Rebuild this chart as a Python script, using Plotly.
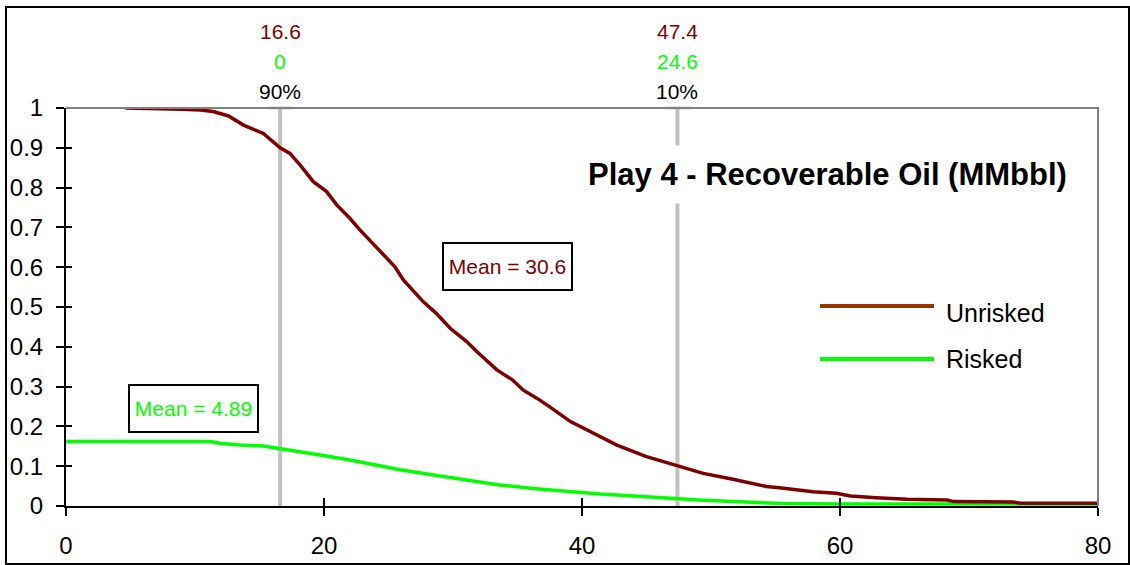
import plotly.graph_objects as go

# Exceedance probability curves, Play 4 recoverable oil (MMbbl)
unrisked_x = [4.6, 7, 9, 10.4, 11.4, 12.6, 13.75, 15.3, 16.07, 16.6, 17.36, 18.14, 19.17,
              20.2, 21, 22, 22.8, 23.8, 24.6, 25.5, 26.15, 27.7, 28.7, 29.8, 31.06, 31.84,
              33.4, 34.6, 35.45, 36.5, 37.5, 39.1, 40.4, 41.4, 42.7, 45, 47.4, 49.4, 51.7,
              54.3, 55.3, 57.9, 59.7, 60.8, 62.8, 65.2, 68.3, 68.8, 73.4, 74, 80]
unrisked_y = [1.0, 0.999, 0.997, 0.995, 0.991, 0.980, 0.957, 0.936, 0.913, 0.90, 0.886,
              0.857, 0.815, 0.790, 0.756, 0.723, 0.693, 0.660, 0.631, 0.601, 0.568, 0.513,
              0.484, 0.446, 0.413, 0.388, 0.342, 0.317, 0.291, 0.271, 0.249, 0.212, 0.191,
              0.174, 0.153, 0.124, 0.10, 0.082, 0.067, 0.049, 0.046, 0.036, 0.032, 0.025,
              0.021, 0.017, 0.015, 0.011, 0.010, 0.007, 0.007]

risked_x = [0, 11.2, 11.9, 13.5, 15.3, 16.7, 18.1, 19.7, 21.8, 23.6, 25.9, 28.5, 31.1,
            33.6, 36.2, 38.8, 41.4, 44.0, 46.6, 49.1, 51.7, 55.6, 60, 70, 80]
risked_y = [0.162, 0.162, 0.1575, 0.153, 0.151, 0.143, 0.136, 0.128, 0.117, 0.105, 0.091,
            0.078, 0.065, 0.053, 0.044, 0.036, 0.030, 0.025, 0.019, 0.015, 0.011, 0.006,
            0.005, 0.005, 0.005]

# Percentiles (P90 / P10) and means
pct_labels = ["90%", "10%"]
pct_unrisked = [16.6, 47.4]
pct_risked = [0, 24.6]
mean_unrisked = 30.6
mean_risked = 4.89

x_ticks = [0, 20, 40, 60, 80]
y_ticks = [0, 0.1, 0.2, 0.3, 0.4, 0.5, 0.6, 0.7, 0.8, 0.9, 1]

FONT = "Liberation Sans, Arial, sans-serif"
RED = "#800000"
GREEN = "#00FF00"
GREY = "#C0C0C0"

W, H = 1130, 565
L, R, T, B = 66, 32, 108, 59
PW, PH = W - L - R, H - T - B


def px(xp):
    return (xp - L) / PW


def py(yp):
    return (H - B - yp) / PH


fig = go.Figure()

# Percentile marker lines with a cap at the top
for v in pct_unrisked:
    fig.add_trace(go.Scatter(
        x=[v, v], y=[0, 1], mode="lines+markers",
        line=dict(color=GREY, width=4),
        marker=dict(symbol="line-ew", size=[0, 18], color=GREY,
                    line=dict(width=3, color=GREY)),
        cliponaxis=False, showlegend=False, hoverinfo="skip"))

fig.add_trace(go.Scatter(x=risked_x, y=risked_y, mode="lines", name="Risked",
                         line=dict(color=GREEN, width=3.5), showlegend=False))
fig.add_trace(go.Scatter(x=unrisked_x, y=unrisked_y, mode="lines", name="Unrisked",
                         line=dict(color=RED, width=3.5), showlegend=False))

# Invisible trace on the overlay axes that carry the inner half of the crossing ticks
fig.add_trace(go.Scatter(x=[None], y=[None], xaxis="x2", yaxis="y2",
                         showlegend=False, hoverinfo="skip"))

axis_common = dict(showgrid=False, zeroline=False, color="black", automargin=False,
                   tickfont=dict(family=FONT, size=24, color="black"))

fig.update_layout(
    width=W, height=H,
    margin=dict(l=L, r=R, t=T, b=B),
    paper_bgcolor="white", plot_bgcolor="white",
    font=dict(family=FONT, color="black"),
    showlegend=False,
    xaxis=dict(range=[0, 80], tickvals=x_ticks, ticks="outside", ticklen=8,
               tickwidth=2, tickcolor="black", showline=True, linecolor="black",
               linewidth=2, ticklabelstandoff=9, **axis_common),
    yaxis=dict(range=[0, 1], tickvals=y_ticks, ticks="outside", ticklen=8,
               tickwidth=2, tickcolor="black", showline=True, linecolor="black",
               linewidth=2, ticklabelstandoff=8, **axis_common),
    xaxis2=dict(range=[0, 80], tickvals=x_ticks, ticks="inside", ticklen=8,
                tickwidth=2, tickcolor="black", showticklabels=False,
                overlaying="x", anchor="y", side="bottom", showgrid=False,
                zeroline=False, showline=False, automargin=False),
    yaxis2=dict(range=[0, 1], tickvals=y_ticks, ticks="inside", ticklen=6,
                tickwidth=2, tickcolor="black", showticklabels=False,
                overlaying="y", anchor="x", side="left", showgrid=False,
                zeroline=False, showline=False, automargin=False),
)

shapes = [
    # grey top and right edges of the plot area
    dict(type="path", xref="paper", yref="paper", path="M 0 1 L 1 1 L 1 0",
         line=dict(color="#808080", width=2), layer="above"),
    # outer chart border
    dict(type="rect", xref="paper", yref="paper",
         x0=px(6), x1=px(1129), y0=py(564), y1=py(7),
         line=dict(color="black", width=2), layer="above"),
    # legend keys
    dict(type="line", xref="paper", yref="paper", x0=px(820), x1=px(934),
         y0=py(306), y1=py(306), line=dict(color="#993300", width=4)),
    dict(type="line", xref="paper", yref="paper", x0=px(820), x1=px(934),
         y0=py(359), y1=py(359), line=dict(color=GREEN, width=4)),
]
fig.update_layout(shapes=shapes)

centered = dict(showarrow=False, xanchor="center", yanchor="middle")
annotations = [
    dict(text="<b>Play 4 - Recoverable Oil (MMbbl)</b>", xref="paper", yref="paper",
         x=px(827), y=py(174), bgcolor="white", borderpad=11,
         font=dict(family=FONT, size=31, color="black"), **centered),
    dict(text=f"Mean = {mean_unrisked}", xref="paper", yref="paper",
         x=px(507.5), y=py(266.5), bgcolor="white",
         bordercolor="black", borderwidth=2, borderpad=2, width=123, height=41,
         font=dict(family=FONT, size=21, color=RED), **centered),
    dict(text=f"Mean = {mean_risked}", xref="paper", yref="paper",
         x=px(193.8), y=py(408.7), bgcolor="white",
         bordercolor="black", borderwidth=2, borderpad=2, width=123, height=41,
         font=dict(family=FONT, size=21, color=GREEN), **centered),
    dict(text="Unrisked", xref="paper", yref="paper", x=px(944), y=py(313),
         xanchor="left", yanchor="middle", showarrow=False,
         font=dict(family=FONT, size=25, color="black")),
    dict(text="Risked", xref="paper", yref="paper", x=px(944), y=py(359),
         xanchor="left", yanchor="middle", showarrow=False,
         font=dict(family=FONT, size=25, color="black")),
]
for lab, vu, vr in zip(pct_labels, pct_unrisked, pct_risked):
    annotations += [
        dict(text=f"{vu:g}", x=vu, xref="x", yref="paper", y=py(31),
             font=dict(family=FONT, size=21, color=RED), **centered),
        dict(text=f"{vr:g}", x=vu, xref="x", yref="paper", y=py(61),
             font=dict(family=FONT, size=21, color=GREEN), **centered),
        dict(text=lab, x=vu, xref="x", yref="paper", y=py(91),
             font=dict(family=FONT, size=21, color="black"), **centered),
    ]
fig.update_layout(annotations=annotations)

fig.write_html("out.html")
